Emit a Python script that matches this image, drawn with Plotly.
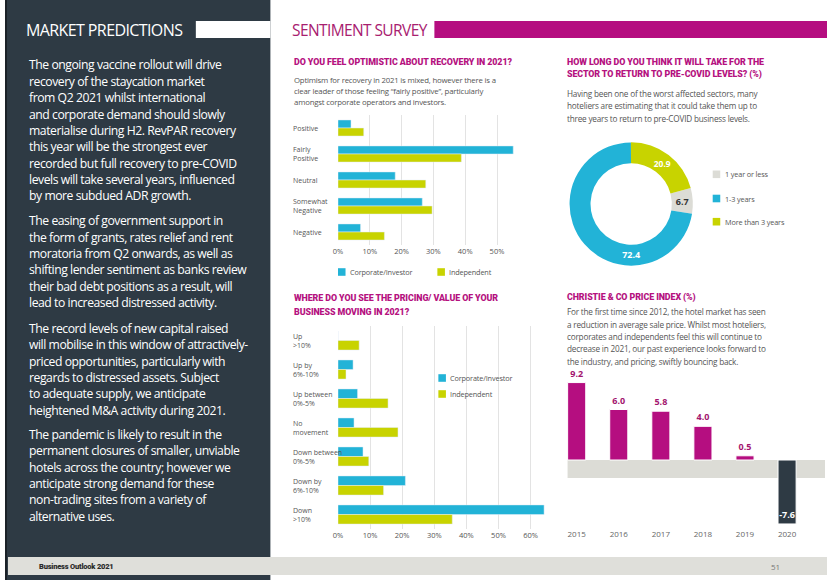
import plotly.graph_objects as go

W, H = 827, 580


def px(x):
    return x / W


def py(y):
    return 1 - y / H


# ---------------- data ----------------
opt_categories = ["Positive", "Fairly Positive", "Neutral", "Somewhat Negative", "Negative"]
opt_labels = ["Positive", "Fairly<br>Positive", "Neutral", "Somewhat<br>Negative", "Negative"]
opt_corporate = [4.1, 55.1, 18.0, 26.5, 7.1]
opt_independent = [8.1, 38.8, 27.6, 29.6, 14.6]
opt_ticks = [0, 10, 20, 30, 40, 50]

rec_labels = ["1 year or less", "1-3 years", "More than 3 years"]
rec_values = [6.7, 72.4, 20.9]

price_categories = ["Up >10%", "Up by 6%-10%", "Up between 0%-5%", "No movement",
                    "Down between 0%-5%", "Down by 6%-10%", "Down >10%"]
price_labels = ["Up<br>>10%", "Up by<br>6%-10%", "Up between<br>0%-5%", "No<br>movement",
                "Down between<br>0%-5%", "Down by<br>6%-10%", "Down<br>>10%"]
price_corporate = [0, 4.7, 6.1, 5.0, 7.8, 21.0, 64.2]
price_independent = [6.6, 2.5, 15.6, 18.7, 9.6, 14.2, 35.6]
price_ticks = [0, 10, 20, 30, 40, 50, 60]

index_years = ["2015", "2016", "2017", "2018", "2019", "2020"]
index_values = [9.2, 6.0, 5.8, 4.0, 0.5, -7.6]

series_names = ["Corporate/Investor", "Independent"]

# ---------------- styles ----------------
DARK = "#2e3a44"
MAGENTA = "#b50e80"
CYAN = "#22b3d7"
LIME = "#c8d300"
LIGHTGREY = "#dcdcd6"
TXT = "#555555"
BODY = "Open Sans"
HEAD = "Roboto"

annotations = []
shapes = []


def text(x, y, s, size, color, family=BODY, bold=False, anchor="left", ls=None, weight=None):
    if ls is not None:
        s = f'<span style="letter-spacing:{ls}px">{s}</span>'
    if bold:
        s = f"<b>{s}</b>"
    font = dict(size=size, color=color, family=family)
    if weight is not None:
        font["weight"] = weight
    annotations.append(dict(x=px(x), y=py(y), xref="paper", yref="paper", text=s,
                            showarrow=False, xanchor=anchor, yanchor="middle",
                            borderpad=0, font=font))


def title(x, y, s):
    text(x, y, s, 8.9, "#b5127f", family=HEAD, ls=-0.1, weight=900)


def rect(x0, y0, x1, y1, color, layer="below"):
    shapes.append(dict(type="rect", xref="paper", yref="paper", x0=px(x0), x1=px(x1),
                       y0=py(y0), y1=py(y1), fillcolor=color, line=dict(width=0), layer=layer))


# ---------------- page background ----------------
rect(0, 0, 267, 580, DARK)
rect(0, 0, 2, 580, "#1b2127")
rect(192, 21, 267, 38, "white")
rect(432, 21, 827, 38, MAGENTA)
rect(3, 557, 827, 575, "#dfdfda")

text(20, 29.5, "MARKET PREDICTIONS", 16, "white", ls=-0.6)
text(288, 30, "SENTIMENT SURVEY", 15.5, "#a8206f", ls=-0.6)

paragraphs = [
    ["The ongoing vaccine rollout will drive", "recovery of the staycation market",
     "from Q2 2021 whilst international", "and corporate demand should slowly",
     "materialise during H2. RevPAR recovery", "this year will be the strongest ever",
     "recorded but full recovery to pre-COVID", "levels will take several years, influenced",
     "by more subdued ADR growth."],
    ["The easing of government support in", "the form of grants, rates relief and rent",
     "moratoria from Q2 onwards, as well as", "shifting lender sentiment as banks review",
     "their bad debt positions as a result, will", "lead to increased distressed activity."],
    ["The record levels of new capital raised", "will mobilise in this window of attractively-",
     "priced opportunities, particularly with", "regards to distressed assets. Subject",
     "to adequate supply, we anticipate", "heightened M&A activity during 2021."],
    ["The pandemic is likely to result in the", "permanent closures of smaller, unviable",
     "hotels across the country; however we", "anticipate strong demand for these",
     "non-trading sites from a variety of", "alternative uses."],
]
para_starts = [65, 220.7, 328.3, 434.3]
for lines, y0 in zip(paragraphs, para_starts):
    for i, ln in enumerate(lines):
        text(23, y0 + i * 16.35, ln, 12.2, "white", ls=-0.45)

text(33, 566, "Business Outlook 2021", 7.5, "#2b2b2b", family=HEAD, ls=-0.2, weight=900)
text(770, 566, "51", 8, "#777777")

# ---------------- titles & subtitles ----------------
title(290, 62.5, "DO YOU FEEL OPTIMISTIC ABOUT RECOVERY IN 2021?")
for i, ln in enumerate(["Optimism for recovery in 2021 is mixed, however there is a",
                        "clear leader of those feeling \u201cfairly positive\u201d, particularly",
                        "amongst corporate operators and investors."]):
    text(290, 80 + i * 11.2, ln, 7.8, TXT, ls=-0.2)

title(564, 62.5, "HOW LONG DO YOU THINK IT WILL TAKE FOR THE")
title(564, 75, "SECTOR TO RETURN TO PRE-COVID LEVELS? (%)")
for i, ln in enumerate(["Having been one of the worst affected sectors, many",
                        "hoteliers are estimating that it could take them up to",
                        "three years to return to pre-COVID business levels."]):
    text(564, 93.3 + i * 12.5, ln, 8.2, TXT, ls=-0.2)

title(290, 297.7, "WHERE DO YOU SEE THE PRICING/ VALUE OF YOUR")
title(290, 311.7, "BUSINESS MOVING IN 2021?")

title(564, 297.7, "CHRISTIE & CO PRICE INDEX (%)")
for i, ln in enumerate(["For the first time since 2012, the hotel market has seen",
                        "a reduction in average sale price. Whilst most hoteliers,",
                        "corporates and independents feel this will continue to",
                        "decrease in 2021, our past experience looks forward to",
                        "the industry, and pricing, swiftly bouncing back."]):
    text(564, 311.7 + i * 12.4, ln, 8.2, TXT, ls=-0.2)

# ---------------- figure ----------------
fig = go.Figure()

# Chart 1: optimism
fig.add_trace(go.Bar(y=list(range(len(opt_categories))), x=opt_corporate, orientation="h",
                     name=series_names[0], marker=dict(color=CYAN), width=0.31, offset=-0.31,
                     xaxis="x", yaxis="y", hovertext=opt_categories))
fig.add_trace(go.Bar(y=list(range(len(opt_categories))), x=opt_independent, orientation="h",
                     name=series_names[1], marker=dict(color=LIME), width=0.31, offset=0,
                     xaxis="x", yaxis="y", hovertext=opt_categories))
for i, lab in enumerate(opt_labels):
    annotations.append(dict(x=px(289), xref="paper", y=i, yref="y", text=lab, showarrow=False,
                            xanchor="left", yanchor="middle", align="left", borderpad=0,
                            font=dict(size=7, color=TXT, family=BODY)))

# Chart 2: donut
fig.add_trace(go.Pie(labels=rec_labels, values=rec_values, hole=0.66, sort=False,
                     direction="clockwise", rotation=75, textinfo="value",
                     texttemplate="<b>%{value:.1f}</b>", textposition="inside",
                     insidetextorientation="horizontal",
                     textfont=dict(size=9, color=["#333333", "white", "white"], family=BODY),
                     marker=dict(colors=[LIGHTGREY, CYAN, LIME], line=dict(width=0)),
                     domain=dict(x=[px(568), px(692)], y=[py(266), py(142)]),
                     showlegend=False))

# Chart 3: pricing
fig.add_trace(go.Bar(y=list(range(len(price_categories))), x=price_corporate, orientation="h",
                     name=series_names[0], marker=dict(color=CYAN), width=0.33, offset=-0.33,
                     xaxis="x3", yaxis="y3", hovertext=price_categories))
fig.add_trace(go.Bar(y=list(range(len(price_categories))), x=price_independent, orientation="h",
                     name=series_names[1], marker=dict(color=LIME), width=0.33, offset=0,
                     xaxis="x3", yaxis="y3", hovertext=price_categories))
for i, lab in enumerate(price_labels):
    annotations.append(dict(x=px(289), xref="paper", y=i, yref="y3", text=lab, showarrow=False,
                            xanchor="left", yanchor="middle", align="left", borderpad=0,
                            font=dict(size=7, color=TXT, family=BODY)))

# Chart 4: price index
bar_colors = [MAGENTA if v >= 0 else DARK for v in index_values]
text_pos = ["outside" if v >= 0 else "inside" for v in index_values]
text_cols = ["#a3146e" if v >= 0 else "white" for v in index_values]
fig.add_trace(go.Bar(x=index_years, y=index_values, width=0.43,
                     marker=dict(color=bar_colors, line=dict(color="white", width=1)),
                     text=[f"{v:.1f}" for v in index_values], texttemplate="<b>%{text}</b>",
                     textposition=text_pos, insidetextanchor="end", constraintext="none",
                     textangle=0,
                     textfont=dict(size=9, color=text_cols, family=BODY),
                     cliponaxis=False, xaxis="x4", yaxis="y4", showlegend=False))
shapes.append(dict(type="rect", xref="paper", yref="y4", x0=px(566), x1=px(825),
                   y0=0, y1=-2.14, fillcolor=LIGHTGREY, line=dict(width=0), layer="below"))

# ---------------- manual legends ----------------
legend_specs = [
    (335, 272, series_names[0], CYAN), (435, 272, series_names[1], LIME),
    (436, 378, series_names[0], CYAN), (436, 394, series_names[1], LIME),
    (712, 174.3, rec_labels[0], LIGHTGREY), (712, 198.5, rec_labels[1], CYAN),
    (712, 221.7, rec_labels[2], LIME),
]
for sx, sy, lab, col in legend_specs:
    rect(sx, sy - 3.8, sx + 7.6, sy + 3.8, col, layer="above")
    text(sx + 11, sy, lab, 7.3, TXT, ls=-0.15)

axis_common = dict(showline=False, zeroline=False, ticks="", fixedrange=True)
tickfont_small = dict(size=7.5, color=TXT, family=BODY)

fig.update_layout(
    width=W, height=H, margin=dict(l=0, r=0, t=0, b=0),
    paper_bgcolor="white", plot_bgcolor="rgba(0,0,0,0)",
    showlegend=False, barmode="group",
    xaxis=dict(domain=[px(335), px(335 + 58 * 3.2)], range=[0, 58], tickmode="array",
               tickvals=opt_ticks, ticktext=[f"{t}%" for t in opt_ticks],
               showgrid=True, gridcolor="#e3e3e3", tickfont=tickfont_small,
               anchor="y", **axis_common),
    yaxis=dict(domain=[py(245), py(115)], range=[4.5, -0.5], showticklabels=False,
               showgrid=False, anchor="x", **axis_common),
    xaxis3=dict(domain=[px(335), px(335 + 65 * 3.23)], range=[0, 65], tickmode="array",
                tickvals=price_ticks, ticktext=[f"{t}%" for t in price_ticks],
                showgrid=True, gridcolor="#e3e3e3", tickfont=tickfont_small,
                anchor="y3", **axis_common),
    yaxis3=dict(domain=[py(529), py(326)], range=[6.5, -0.5], showticklabels=False,
                showgrid=False, anchor="x3", **axis_common),
    xaxis4=dict(domain=[px(554), px(808)], range=[-0.5, 5.5], type="category",
                showgrid=False, anchor="y4", tickfont=dict(size=8, color="#666666", family=BODY),
                **axis_common),
    yaxis4=dict(domain=[py(528), py(375)], range=[-8.08, 10.1], showticklabels=False,
                showgrid=False, anchor="x4", **axis_common),
    annotations=annotations, shapes=shapes,
    font=dict(family=BODY),
)

fig.write_html("out.html", config={"displayModeBar": False},
               post_script="document.body.style.margin='0';document.body.style.overflow='hidden';")
